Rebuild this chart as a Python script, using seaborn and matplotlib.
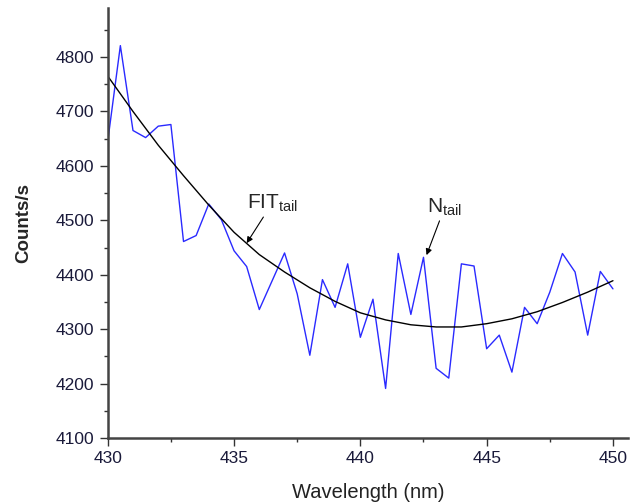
import numpy as np
import pandas as pd
import seaborn as sns
import matplotlib.pyplot as plt
from matplotlib.ticker import MultipleLocator

# measured spectrum (0.5 nm steps)
wavelength = [430.0, 430.5, 431.0, 431.5, 432.0, 432.5, 433.0, 433.5, 434.0, 434.5,
              435.0, 435.5, 436.0, 436.5, 437.0, 437.5, 438.0, 438.5, 439.0, 439.5,
              440.0, 440.5, 441.0, 441.5, 442.0, 442.5, 443.0, 443.5, 444.0, 444.5,
              445.0, 445.5, 446.0, 446.5, 447.0, 447.5, 448.0, 448.5, 449.0, 449.5,
              450.0]
counts = [4645, 4821, 4665, 4652, 4673, 4676, 4461, 4472, 4530, 4501,
          4444, 4415, 4336, 4388, 4440, 4365, 4252, 4391, 4340, 4420,
          4285, 4355, 4191, 4439, 4327, 4432, 4228, 4210, 4420, 4416,
          4264, 4289, 4221, 4340, 4310, 4368, 4439, 4405, 4289, 4406,
          4374]

# fitted tail curve, read at 1 nm
fit_wl = [430, 431, 432, 433, 434, 435, 436, 437, 438, 439, 440,
          441, 442, 443, 444, 445, 446, 447, 448, 449, 450]
fit_counts = [4765, 4700, 4638, 4582, 4528, 4478, 4437, 4405, 4376, 4351, 4330,
              4317, 4308, 4304, 4304, 4310, 4319, 4332, 4349, 4368, 4389]

spec = pd.DataFrame({'wl': wavelength, 'counts': counts})
fit = pd.DataFrame({'wl': fit_wl, 'counts': fit_counts})

sns.set_style('ticks')
plt.rcParams['font.family'] = ['Liberation Sans', 'DejaVu Sans']

fig = plt.figure(figsize=(6.3, 5.04), dpi=100)
ax = fig.add_axes([0.171, 0.131, 0.826, 0.853])

sns.lineplot(data=spec, x='wl', y='counts', ax=ax, color='#2a2aff', linewidth=1.0)
sns.lineplot(data=fit, x='wl', y='counts', ax=ax, color='black', linewidth=1.0)

ax.set_xlim(430, 450.6)
ax.set_ylim(4100, 4890)
ax.xaxis.set_major_locator(MultipleLocator(5))
ax.xaxis.set_minor_locator(MultipleLocator(2.5))
ax.yaxis.set_major_locator(MultipleLocator(100))
ax.yaxis.set_minor_locator(MultipleLocator(50))
ax.tick_params(which='major', direction='out', length=6, width=1, labelsize=12.5, colors='#333333')
ax.tick_params(which='minor', direction='out', length=3, width=1, colors='#333333')
for lab in ax.get_xticklabels() + ax.get_yticklabels():
    lab.set_color('#1a1a3a')

sns.despine(ax=ax)
for s in ['left', 'bottom']:
    ax.spines[s].set_linewidth(1.8)
    ax.spines[s].set_color('#444444')

ax.set_xlabel('Wavelength (nm)', fontsize=14.5, labelpad=12, color='#222222')
ax.set_ylabel('Counts/s', fontsize=13.5, fontweight='bold', labelpad=17)

arrow = dict(arrowstyle='-|>', color='black', lw=0.8, mutation_scale=9, shrinkA=0, shrinkB=0)
ax.annotate(r'$\mathregular{FIT_{tail}}$', xy=(435.5, 4458), xytext=(435.5, 4512),
            fontsize=15, arrowprops=arrow, ha='left', va='bottom')
ax.annotate(r'$\mathregular{N_{tail}}$', xy=(442.62, 4436), xytext=(442.65, 4505),
            fontsize=15, arrowprops=arrow, ha='left', va='bottom')

fig.savefig('out.png', dpi=100)
